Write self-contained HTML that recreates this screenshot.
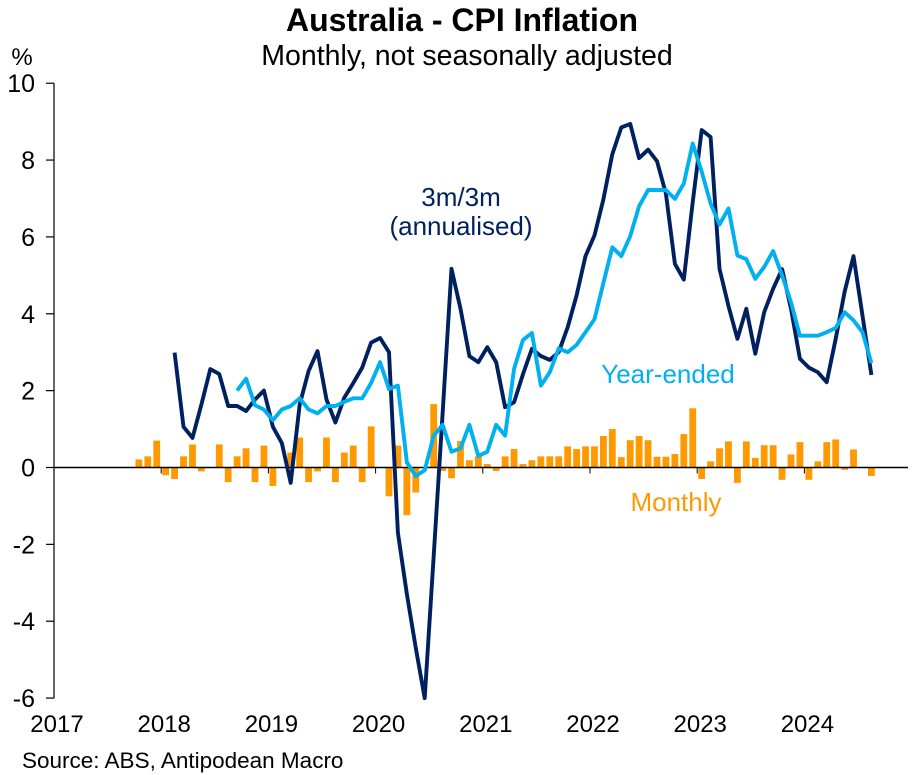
<!DOCTYPE html>
<html><head><meta charset="utf-8"><style>
html,body{margin:0;padding:0;background:#fff;}
svg{display:block;font-family:"Liberation Sans",Arial,sans-serif;}
</style></head><body>
<svg id="chart" width="922" height="775" viewBox="0 0 922 775">
<text x="462" y="31" text-anchor="middle" font-size="32" font-weight="bold">Australia - CPI Inflation</text>
<text x="467" y="65" text-anchor="middle" font-size="28.5">Monthly, not seasonally adjusted</text>
<text x="22" y="65" text-anchor="middle" font-size="24">%</text>
<g id="yaxis"></g>
<g id="bars"></g>
<g id="xaxis"></g>
<g id="lines"></g>
<text x="461" y="206" text-anchor="middle" font-size="26" fill="#002060">3m/3m</text>
<text x="461" y="235" text-anchor="middle" font-size="26" fill="#002060">(annualised)</text>
<text x="668" y="383" text-anchor="middle" font-size="26" fill="#00B0F0">Year-ended</text>
<text x="676" y="511" text-anchor="middle" font-size="26" fill="#FF9900">Monthly</text>
<text x="22" y="768" font-size="22.5">Source: ABS, Antipodean Macro</text>
</svg>
<script>
const yTicks = [10, 8, 6, 4, 2, 0, -2, -4, -6];
const yTickLabels = ["10", "8", "6", "4", "2", "0", "-2", "-4", "-6"];
const xYears = [2017, 2018, 2019, 2020, 2021, 2022, 2023, 2024];
const monthlyStart = 9;   // months since Jan 2017 (Oct 2017)
const monthly = [0.21,0.29,0.70,
 -0.2,-0.3,0.29,0.6,-0.1,0,0.6,-0.38,0.29,0.5,-0.38,0.57,
 -0.48,0,0.39,0.78,-0.38,-0.1,0.78,-0.38,0.39,0.57,-0.38,1.07,
 0,-0.75,0.57,-1.24,-0.65,0,1.65,-0.09,-0.28,0.69,0.19,0.29,
 0.09,-0.09,0.29,0.48,0.09,0.19,0.29,0.29,0.29,0.55,0.48,0.55,
 0.55,0.82,1.0,0.27,0.71,0.82,0.71,0.28,0.28,0.35,0.87,1.54,
 -0.3,0.16,0.5,0.68,-0.4,0.68,0.25,0.58,0.58,-0.32,0.34,0.66,
 -0.32,0.16,0.66,0.73,-0.06,0.47,0,-0.22];
const threeMStart = 13;   // Feb 2018
const threeM = [2.99,1.06,0.77,1.64,2.56,2.43,1.6,1.6,1.47,1.77,2.0,
 1.06,0.64,-0.4,1.64,2.51,3.03,1.77,1.17,1.82,2.2,2.6,3.25,
 3.37,3.0,-1.7,-3.3,-4.7,-6.0,-2.3,1.4,5.17,4.13,2.9,2.74,
 3.13,2.74,1.57,1.7,2.43,3.09,2.9,2.8,3.0,3.65,4.48,5.5,
 6.04,6.98,8.15,8.85,8.94,8.05,8.27,7.97,7.13,5.3,4.89,6.9,
 8.78,8.6,5.17,4.2,3.35,4.13,2.96,4.04,4.65,5.16,4.13,2.83,
 2.6,2.48,2.22,3.35,4.57,5.5,3.95,2.41];
const yearEndedStart = 20; // Sep 2018
const yearEnded = [2.0,2.31,1.62,1.51,
 1.23,1.51,1.6,1.8,1.51,1.41,1.6,1.6,1.71,1.8,1.8,2.2,
 2.74,2.04,2.13,0.13,-0.22,-0.07,0.83,1.11,0.41,0.5,1.11,0.3,
 0.41,1.11,0.83,2.57,3.32,3.5,2.13,2.48,3.1,3.0,3.19,3.52,
 3.86,4.8,5.73,5.5,6.02,6.8,7.22,7.22,7.22,6.99,7.39,8.43,
 7.7,6.87,6.32,6.74,5.52,5.42,4.91,5.22,5.63,5.0,4.3,3.43,
 3.43,3.43,3.52,3.63,4.04,3.83,3.52,2.72];

const NS = "http://www.w3.org/2000/svg";
const X0 = 54, YEARW = 107.2, MW = YEARW / 12, RIGHT = 908;
function xMonth(m) { return X0 + (m + 0.5) * MW; }
function xYear(y) { return X0 + (y - 2017) * YEARW; }
function yVal(v) { return 467.5 - v * 38.43; }
function mk(tag, attrs, parent) {
  const e = document.createElementNS(NS, tag);
  for (const k in attrs) e.setAttribute(k, attrs[k]);
  parent.appendChild(e); return e;
}
const yg = document.getElementById('yaxis');
const ya = mk('line', {x1: X0, x2: X0, y1: yVal(10), y2: yVal(-6), stroke: '#000', 'stroke-width': 1.2}, yg);


yTicks.forEach((v, i) => {
  const t = mk('line', {x1: X0 - 8, x2: X0, y1: yVal(v), y2: yVal(v), stroke: '#000', 'stroke-width': 1.2}, yg);
  
  
  const l = mk('text', {x: 35, y: yVal(v) + 9, 'text-anchor': 'end', 'font-size': 25}, yg);
  l.textContent = yTickLabels[i];
  
  
});
const bg = document.getElementById('bars');
monthly.forEach((v, i) => {
  const x = xMonth(monthlyStart + i);
  const y0 = yVal(0), y1 = yVal(v);
  const r = mk('rect', {x: x - 3.4, width: 6.8, y: Math.min(y0, y1), height: Math.abs(y1 - y0), fill: '#FF9900'}, bg);
  
  
});
const xg = document.getElementById('xaxis');
const za = mk('line', {x1: X0, x2: RIGHT, y1: yVal(0), y2: yVal(0), stroke: '#000', 'stroke-width': 1.5}, xg);


xYears.forEach(yr => {
  const x = xYear(yr);
  const t = mk('line', {x1: x, x2: x, y1: yVal(0), y2: yVal(0) + 6, stroke: '#000', 'stroke-width': 1}, xg);
  
  
  const l = mk('text', {x: x + 3, y: 732, 'text-anchor': 'middle', 'font-size': 24}, xg);
  l.textContent = String(yr);
  
  
});
const lg = document.getElementById('lines');
function line(data, start, color, name) {
  const pts = data.map((v, i) => xMonth(start + i).toFixed(1) + ',' + yVal(v).toFixed(1)).join(' ');
  const p = mk('polyline', {points: pts, fill: 'none', stroke: color, 'stroke-width': 3.9, 'stroke-linejoin': 'round'}, lg);
  
  
}
line(threeM, threeMStart, '#002060', 'line-3m3m-annualised');
line(yearEnded, yearEndedStart, '#00B0F0', 'line-year-ended');
</script>
</body></html>
